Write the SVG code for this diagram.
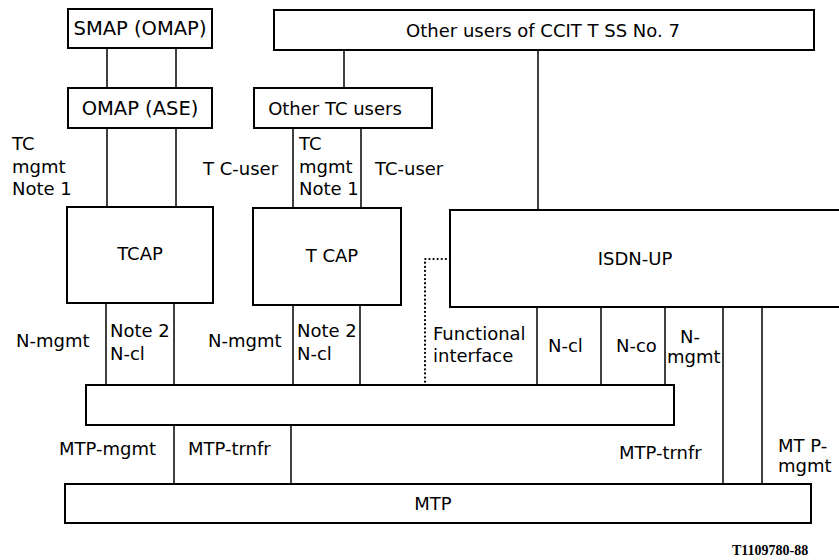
<svg xmlns="http://www.w3.org/2000/svg" width="839" height="560" viewBox="0 0 839 560">
<style>
  .box { fill: #fff; stroke: #000; stroke-width: 2; }
  .ln { stroke: #000; stroke-width: 1.5; fill: none; }
  .dot { stroke: #000; stroke-width: 2.2; fill: none; stroke-dasharray: 0.1 4; stroke-linecap: round; }
  text { font-family: "DejaVu Sans", "Liberation Sans", sans-serif; font-size: 18px; fill: #000; }
  .c { text-anchor: middle; }
  .big { font-size: 19.5px; }
  .ref { font-family: "Liberation Serif", serif; font-weight: bold; font-size: 14px; }
</style>
<rect width="839" height="560" fill="#fff"/>
<g id="connectors">
  <line class="ln" x1="107" y1="48" x2="107" y2="88"/>
  <line class="ln" x1="176" y1="48" x2="176" y2="88"/>
  <line class="ln" x1="107" y1="128" x2="107" y2="207"/>
  <line class="ln" x1="176" y1="128" x2="176" y2="207"/>
  <line class="ln" x1="344" y1="50" x2="344" y2="88"/>
  <line class="ln" x1="293" y1="128" x2="293" y2="208"/>
  <line class="ln" x1="361" y1="128" x2="361" y2="208"/>
  <line class="ln" x1="538" y1="50" x2="538" y2="210"/>
  <line class="ln" x1="106" y1="303" x2="106" y2="385"/>
  <line class="ln" x1="174" y1="303" x2="174" y2="385"/>
  <line class="ln" x1="293" y1="305" x2="293" y2="385"/>
  <line class="ln" x1="360" y1="305" x2="360" y2="385"/>
  <line class="ln" x1="537" y1="307" x2="537" y2="386"/>
  <line class="ln" x1="601" y1="307" x2="601" y2="386"/>
  <line class="ln" x1="665" y1="307" x2="665" y2="387"/>
  <line class="ln" x1="723" y1="307" x2="723" y2="486"/>
  <line class="ln" x1="762" y1="307" x2="762" y2="486"/>
  <line class="ln" x1="174" y1="425" x2="174" y2="484"/>
  <line class="ln" x1="291" y1="425" x2="291" y2="484"/>
  <polyline class="dot" points="450,259 425,259 425,383"/>
</g>
<g id="smap">
  <rect class="box" x="68" y="9" width="144" height="39"/>
  <text class="c big" x="140" y="35">SMAP (OMAP)</text>
</g>
<g id="omap">
  <rect class="box" x="68" y="88" width="144" height="40"/>
  <text class="c big" x="140" y="115">OMAP (ASE)</text>
</g>
<g id="other-users">
  <rect class="box" x="274" y="10" width="540" height="40"/>
  <text class="c" x="543" y="37">Other users of CCIT T SS No. 7</text>
</g>
<g id="other-tc-users">
  <rect class="box" x="254" y="88" width="178" height="40"/>
  <text class="c" x="335" y="115">Other TC users</text>
</g>
<g id="tcap1">
  <rect class="box" x="67" y="207" width="146" height="96"/>
  <text class="c" x="140" y="260">TCAP</text>
</g>
<g id="tcap2">
  <rect class="box" x="253" y="208" width="148" height="97"/>
  <text class="c" x="332" y="262">T CAP</text>
</g>
<g id="isdn-up">
  <rect class="box" x="450" y="210" width="400" height="97"/>
  <text class="c" x="635" y="265">ISDN-UP</text>
</g>
<g id="sccp">
  <rect class="box" x="86" y="385" width="588" height="40"/>
</g>
<g id="mtp">
  <rect class="box" x="65" y="484" width="746" height="39"/>
  <text class="c" x="433" y="510">MTP</text>
</g>
<g id="labels">
  <text x="12" y="150">TC</text>
  <text x="12" y="173">mgmt</text>
  <text x="12" y="195">Note 1</text>
  <text x="203" y="175">T C-user</text>
  <text x="299" y="150">TC</text>
  <text x="299" y="173">mgmt</text>
  <text x="299" y="195">Note 1</text>
  <text x="375" y="175">TC-user</text>
  <text x="16" y="347">N-mgmt</text>
  <text x="110" y="337">Note 2</text>
  <text x="110" y="360">N-cl</text>
  <text x="208" y="347">N-mgmt</text>
  <text x="297" y="337">Note 2</text>
  <text x="297" y="360">N-cl</text>
  <text x="433" y="340">Functional</text>
  <text x="433" y="362">interface</text>
  <text x="548" y="352">N-cl</text>
  <text x="616" y="352">N-co</text>
  <text x="680" y="343">N-</text>
  <text x="667" y="363">mgmt</text>
  <text x="59" y="455">MTP-mgmt</text>
  <text x="188" y="455">MTP-trnfr</text>
  <text x="619" y="459">MTP-trnfr</text>
  <text x="778" y="452">MT P-</text>
  <text x="778" y="472">mgmt</text>
  <text class="ref" x="732" y="555">T1109780-88</text>
</g>
</svg>
